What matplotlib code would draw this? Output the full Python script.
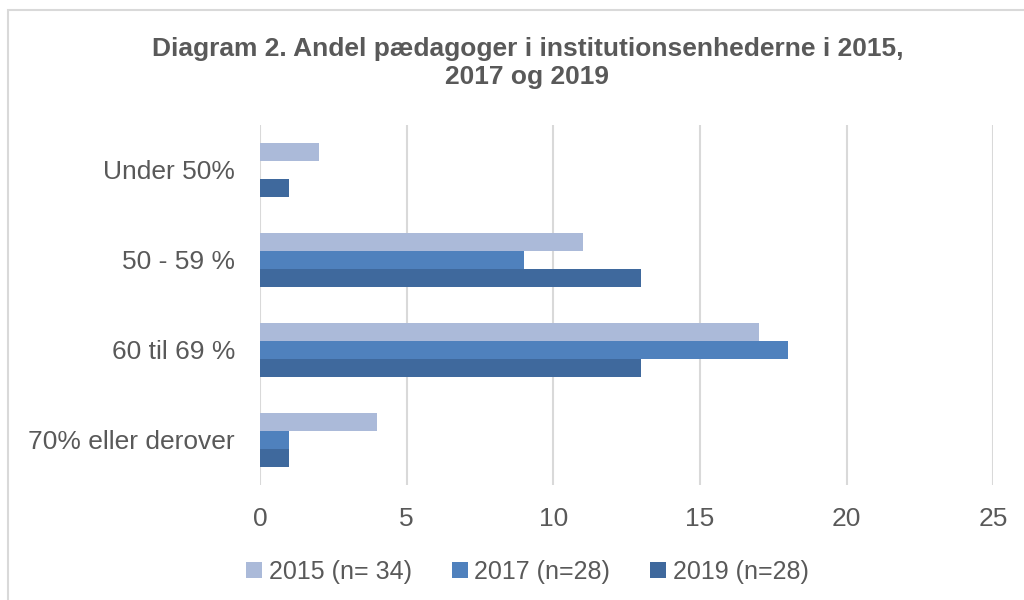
import numpy as np
import matplotlib
matplotlib.use("Agg")
import matplotlib.pyplot as plt
from matplotlib.patches import Rectangle

plt.rcParams["font.family"] = ["Liberation Sans", "DejaVu Sans"]

# Data
kategorier = ["Under 50%", "50 - 59 %", "60 til 69 %", "70% eller derover"]
serier = ["2015 (n= 34)", "2017 (n=28)", "2019 (n=28)"]
v2015 = [2, 11, 17, 4]
v2017 = [0, 9, 18, 1]
v2019 = [1, 13, 13, 1]
farver = ["#ABBAD9", "#4F81BD", "#3F699D"]
xticks = [0, 5, 10, 15, 20, 25]

tekst = "#595959"

fig = plt.figure(figsize=(10.24, 6), dpi=100)
ax = fig.add_axes([0.254, 0.192, 0.716, 0.600])

y = np.arange(len(kategorier))
h = 0.2
for i, (vals, navn, f) in enumerate(zip([v2015, v2017, v2019], serier, farver)):
    ax.barh(y + (i - 1) * h, vals, height=h, color=f, label=navn, zorder=3)

ax.set_xlim(0, 25)
ax.set_ylim(3.5, -0.5)
ax.set_xticks(xticks)
ax.set_yticks(y)
ax.set_yticklabels(kategorier)
ax.tick_params(axis="both", length=0, labelsize=19, labelcolor=tekst)
ax.tick_params(axis="x", pad=16)
ax.tick_params(axis="y", pad=18)
ax.xaxis.grid(True, color="#D9D9D9", linewidth=1.5, zorder=0)
for s in ax.spines.values():
    s.set_visible(False)

fig.text(0.515, 0.895, "Diagram 2. Andel pædagoger i institutionsenhederne i 2015,\n2017 og 2019",
         ha="center", va="center", fontsize=19, fontweight="bold", color=tekst,
         linespacing=1.2)

leg = fig.legend(loc="center", bbox_to_anchor=(0.515, 0.047), ncol=3, frameon=False,
                 fontsize=18, handlelength=0.65, handleheight=0.65, handletextpad=0.25,
                 columnspacing=1.6)
for t in leg.get_texts():
    t.set_color(tekst)

# ramme om figuren
fig.patches.append(Rectangle((8 / 1024, -0.01), 1.02, 1 - 10 / 600 + 0.01,
                             transform=fig.transFigure, fill=False,
                             edgecolor="#D9D9D9", linewidth=1.5))

fig.savefig("out.png", dpi=100)
